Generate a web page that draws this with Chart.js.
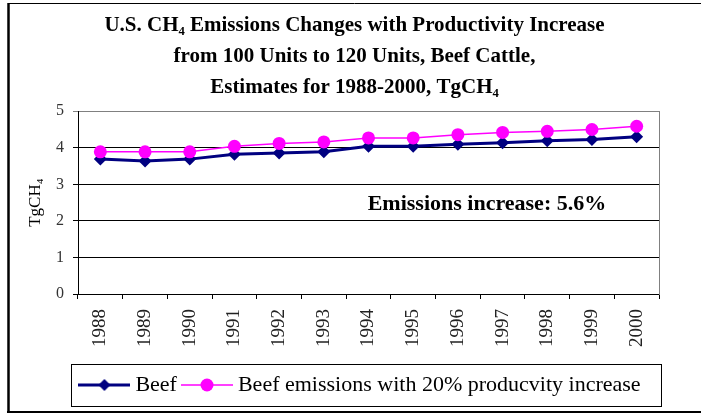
<!DOCTYPE html>
<html>
<head>
<meta charset="utf-8">
<script src="https://cdn.jsdelivr.net/npm/chart.js@4.4.1/dist/chart.umd.min.js"></script>
<style>
  html, body { margin: 0; padding: 0; background: #fff; }
  #wrap { width: 701px; height: 414px; }
</style>
</head>
<body>
<div id="wrap"><canvas id="chart" width="701" height="414"></canvas></div>
<script>
// Data (TgCH4)
const years = ['1988', '1989', '1990', '1991', '1992', '1993', '1994', '1995', '1996', '1997', '1998', '1999', '2000'];
const beef = [3.69, 3.64, 3.69, 3.82, 3.86, 3.89, 4.04, 4.04, 4.10, 4.14, 4.19, 4.23, 4.30];
const beefProd = [3.89, 3.89, 3.89, 4.04, 4.12, 4.16, 4.27, 4.27, 4.36, 4.42, 4.45, 4.50, 4.59];
const yTicks = [0, 1, 2, 3, 4, 5];
const titleLines = [
    'U.S. CH\u2084 Emissions Changes with Productivity Increase',
    'from 100 Units to 120 Units, Beef Cattle,',
    'Estimates for 1988-2000, TgCH\u2084'
];
const note = 'Emissions increase: 5.6%';

const serif = "'Liberation Serif', 'Times New Roman', serif";
const navy = '#000080';
const magenta = '#FF00FF';

// small legend swatch: line with marker in the middle
function swatch(color, lineW, shape) {
    const c = document.createElement('canvas');
    c.width = 52; c.height = 16;
    const g = c.getContext('2d');
    g.strokeStyle = color;
    g.lineWidth = lineW;
    g.beginPath(); g.moveTo(0, 8); g.lineTo(52, 8); g.stroke();
    g.fillStyle = color;
    g.beginPath();
    if (shape === 'diamond') {
        g.moveTo(26, 2); g.lineTo(32, 8); g.lineTo(26, 14); g.lineTo(20, 8);
        g.closePath();
    } else {
        g.arc(26, 8, 6.5, 0, Math.PI * 2);
    }
    g.fill();
    return c;
}

const frame = {
    id: 'frame',
    beforeDraw(chart) {
        const ctx = chart.ctx;
        ctx.save();
        ctx.fillStyle = '#fff';
        ctx.fillRect(0, 0, chart.width, chart.height);
        ctx.strokeStyle = '#000';
        ctx.lineWidth = 1;
        ctx.beginPath(); ctx.moveTo(8, 3.5); ctx.lineTo(chart.width, 3.5); ctx.stroke();
        ctx.lineWidth = 2.5;
        ctx.beginPath(); ctx.moveTo(8.5, 3); ctx.lineTo(8.5, 412); ctx.stroke();
        ctx.lineWidth = 2;
        ctx.beginPath(); ctx.moveTo(7, 412); ctx.lineTo(chart.width, 412); ctx.stroke();
        ctx.restore();
    },
    afterLayout(chart) {
        // reference legend sits a little right of centre
        chart.legend.left += 8;
        chart.legend.right += 8;
    },
    afterDraw(chart) {
        const ctx = chart.ctx;
        const lg = chart.legend;
        const x = chart.scales.x, y = chart.scales.y;
        ctx.save();
        // legend frame
        const lw = lg.lineWidths[0];
        const startX = (lg.left + 10 + lg.right - lw) / 2;
        ctx.strokeStyle = '#000';
        ctx.lineWidth = 1;
        ctx.strokeRect(Math.round(startX - 13) + 0.5, Math.round(lg.top) + 0.5,
            Math.round(lw + 24), Math.round(lg.bottom - lg.top));
        // annotation
        ctx.fillStyle = '#000';
        ctx.font = 'bold 22px ' + serif;
        ctx.textAlign = 'center';
        ctx.textBaseline = 'middle';
        ctx.fillText(note, x.getPixelForValue(8.65), y.getPixelForValue(2.46));
        ctx.restore();
    }
};

new Chart(document.getElementById('chart'), {
    type: 'line',
    data: {
        labels: years,
        datasets: [
            {
                label: 'Beef emissions with 20% producvity increase',
                data: beefProd,
                borderColor: magenta,
                backgroundColor: magenta,
                borderWidth: 1.5,
                pointStyle: 'circle',
                pointRadius: 6.5,
                pointBorderWidth: 0,
                pointBackgroundColor: magenta,
                tension: 0
            },
            {
                label: 'Beef',
                data: beef,
                borderColor: navy,
                backgroundColor: navy,
                borderWidth: 3,
                pointStyle: 'rectRot',
                pointRadius: 6.5,
                pointBorderWidth: 0,
                pointBackgroundColor: navy,
                tension: 0
            }
        ]
    },
    options: {
        responsive: false,
        animation: false,
        layout: { padding: { left: 8, right: 0, top: 0, bottom: 8 } },
        plugins: {
            tooltip: { enabled: false },
            title: {
                display: true,
                text: titleLines,
                color: '#000',
                font: { family: serif, size: 21, weight: 'bold', lineHeight: 1.48 },
                padding: { top: 10, bottom: 8 }
            },
            legend: {
                position: 'bottom',
                labels: {
                    usePointStyle: true,
                    pointStyleWidth: 40,
                    padding: 10,
                    color: '#000',
                    font: { family: serif, size: 22 },
                    generateLabels: () => [
                        { text: 'Beef', pointStyle: swatch(navy, 3, 'diamond'), fontColor: '#000', lineWidth: 0, datasetIndex: 1 },
                        { text: 'Beef emissions with 20% producvity increase', pointStyle: swatch(magenta, 1.5, 'circle'), fontColor: '#000', lineWidth: 0, datasetIndex: 0 }
                    ]
                }
            }
        },
        scales: {
            x: {
                offset: true,
                afterFit: (s) => { s.height = 70; },
                grid: {
                    offset: true,
                    drawOnChartArea: false,
                    drawTicks: true,
                    tickLength: 5,
                    color: '#000'
                },
                border: { display: true, color: '#000', width: 1 },
                ticks: {
                    minRotation: 90,
                    maxRotation: 90,
                    autoSkip: false,
                    padding: 10,
                    color: '#222',
                    font: { family: serif, size: 19 }
                }
            },
            y: {
                min: 0,
                max: 5,
                afterFit: (s) => { s.width = 70; },
                afterBuildTicks: (s) => { s.ticks = yTicks.map(v => ({ value: v })); },
                grid: {
                    color: (c) => (c.tick && c.tick.value === 5 ? '#808080' : '#000'),
                    lineWidth: 1,
                    tickLength: 5
                },
                border: { display: true, color: '#000', width: 1 },
                ticks: {
                    padding: 9,
                    color: '#333',
                    font: { family: serif, size: 16 }
                },
                title: {
                    display: true,
                    text: 'TgCH\u2084',
                    color: '#000',
                    font: { family: serif, size: 17 },
                    padding: { top: 17, bottom: 0 }
                }
            },
            y2: {
                type: 'linear',
                position: 'right',
                afterFit: (s) => { s.width = 42; },
                grid: { display: false },
                ticks: { display: false },
                border: { display: true, color: '#808080', width: 1 }
            }
        }
    },
    plugins: [frame]
});
</script>
</body>
</html>
